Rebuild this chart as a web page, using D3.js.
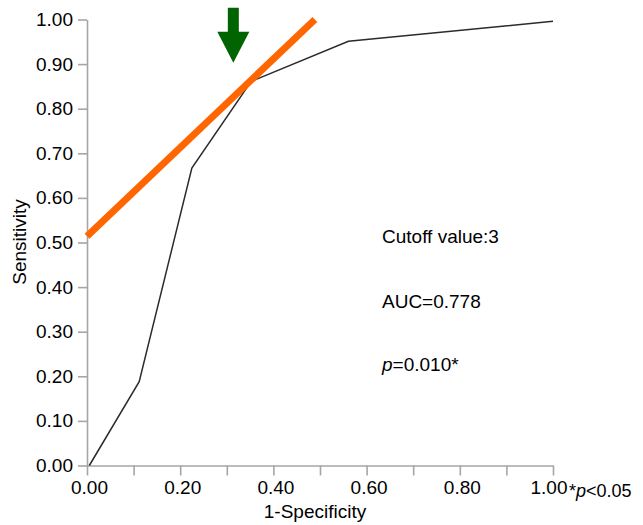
<!DOCTYPE html>
<html>
<head>
<meta charset="utf-8">
<script src="https://cdn.jsdelivr.net/npm/d3@7"></script>
<style>
  body { margin: 0; background: #fff; }
  text { font-family: "Liberation Sans", Arial, sans-serif; fill: #000; }
  .axis path, .axis line { stroke: #a6a6a6; stroke-width: 1.6; }
  .axis text { font-size: 19px; fill: #000; }
</style>
</head>
<body>
<div id="chart"></div>
<script>
// ROC curve points (1-specificity, sensitivity)
var fpr = [0.005, 0.112, 0.225, 0.352, 0.561, 1.0]
var tpr = [0.0, 0.188, 0.667, 0.861, 0.951, 0.996]

// orange tangent line end points
var lineX = [0.0, 0.489]
var lineY = [0.514, 1.0]

// arrow tip (data coords)
var arrowTip = [0.314, 0.903]

var tickVals = [0, 0.1, 0.2, 0.3, 0.4, 0.5, 0.6, 0.7, 0.8, 0.9, 1.0]
var xLabelVals = [0, 0.2, 0.4, 0.6, 0.8, 1.0]

var notes = ['Cutoff value:3', 'AUC=0.778']

var width = 643
var height = 525

var svg = d3.select('#chart')
  .append('svg')
  .attr('width', width)
  .attr('height', height)

var xScale = d3.scaleLinear().domain([0, 1]).range([87, 553])
var yScale = d3.scaleLinear().domain([0, 1]).range([465.5, 19.5])

// Axes
var yAxis = d3.axisLeft(yScale)
  .tickValues(tickVals)
  .tickSize(9)
  .tickSizeOuter(0)
  .tickPadding(5)
  .tickFormat(d3.format('.2f'))

var xAxis = d3.axisBottom(xScale)
  .tickValues(tickVals)
  .tickSize(10)
  .tickSizeOuter(0)
  .tickPadding(5)
  .tickFormat(d => xLabelVals.some(v => Math.abs(v - d) < 1e-9) ? d3.format('.2f')(d) : '')

svg.append('g')
  .attr('class', 'axis')
  .attr('transform', `translate(${xScale(0)}, 0)`)
  .call(yAxis)

var gx = svg.append('g')
  .attr('class', 'axis')
  .attr('transform', `translate(0, ${yScale(0)})`)
  .call(xAxis)

// labels sit a bit right of their ticks, last one pulled left to make room for the note
gx.selectAll('.tick text')
  .attr('dx', d => d === 1 ? -4.5 : 2)

// Axis labels
svg.append('text')
  .attr('transform', 'rotate(-90)')
  .attr('x', -242)
  .attr('y', 26)
  .attr('text-anchor', 'middle')
  .style('font-size', '19px')
  .text('Sensitivity')

svg.append('text')
  .attr('x', 315)
  .attr('y', 518)
  .attr('text-anchor', 'middle')
  .style('font-size', '19px')
  .text('1-Specificity')

// ROC curve
var pts = fpr.map((d, i) => [d, tpr[i]])
var line = d3.line()
  .x(d => xScale(d[0]))
  .y(d => yScale(d[1]))

svg.append('path')
  .datum(pts)
  .attr('d', line)
  .attr('fill', 'none')
  .attr('stroke', '#2b2b2b')
  .attr('stroke-width', 1.5)

// Orange line
svg.append('path')
  .datum(lineX.map((d, i) => [d, lineY[i]]))
  .attr('d', line)
  .attr('fill', 'none')
  .attr('stroke', '#ff6600')
  .attr('stroke-width', 7)

// Green arrow
var tx = xScale(arrowTip[0])
var ty = yScale(arrowTip[1])
svg.append('path')
  .attr('d', `M${tx},${ty} L${tx - 16},${ty - 31} L${tx - 5.5},${ty - 31} L${tx - 5.5},${ty - 55}
    L${tx + 5.5},${ty - 55} L${tx + 5.5},${ty - 31} L${tx + 16},${ty - 31} Z`)
  .attr('fill', '#006400')

// Annotations
svg.selectAll('.note')
  .data(notes)
  .enter()
  .append('text')
  .attr('class', 'note')
  .attr('x', 382)
  .attr('y', (d, i) => 243 + i * 65)
  .style('font-size', '19px')
  .text(d => d)

var pt = svg.append('text')
  .attr('x', 382)
  .attr('y', 371)
  .style('font-size', '19px')
pt.append('tspan').style('font-style', 'italic').text('p')
pt.append('tspan').text('=0.010*')

var sig = svg.append('text')
  .attr('x', 569)
  .attr('y', 497)
  .style('font-size', '18px')
sig.append('tspan').text('*')
sig.append('tspan').style('font-style', 'italic').text('p')
sig.append('tspan').text('<0.05')
</script>
</body>
</html>
